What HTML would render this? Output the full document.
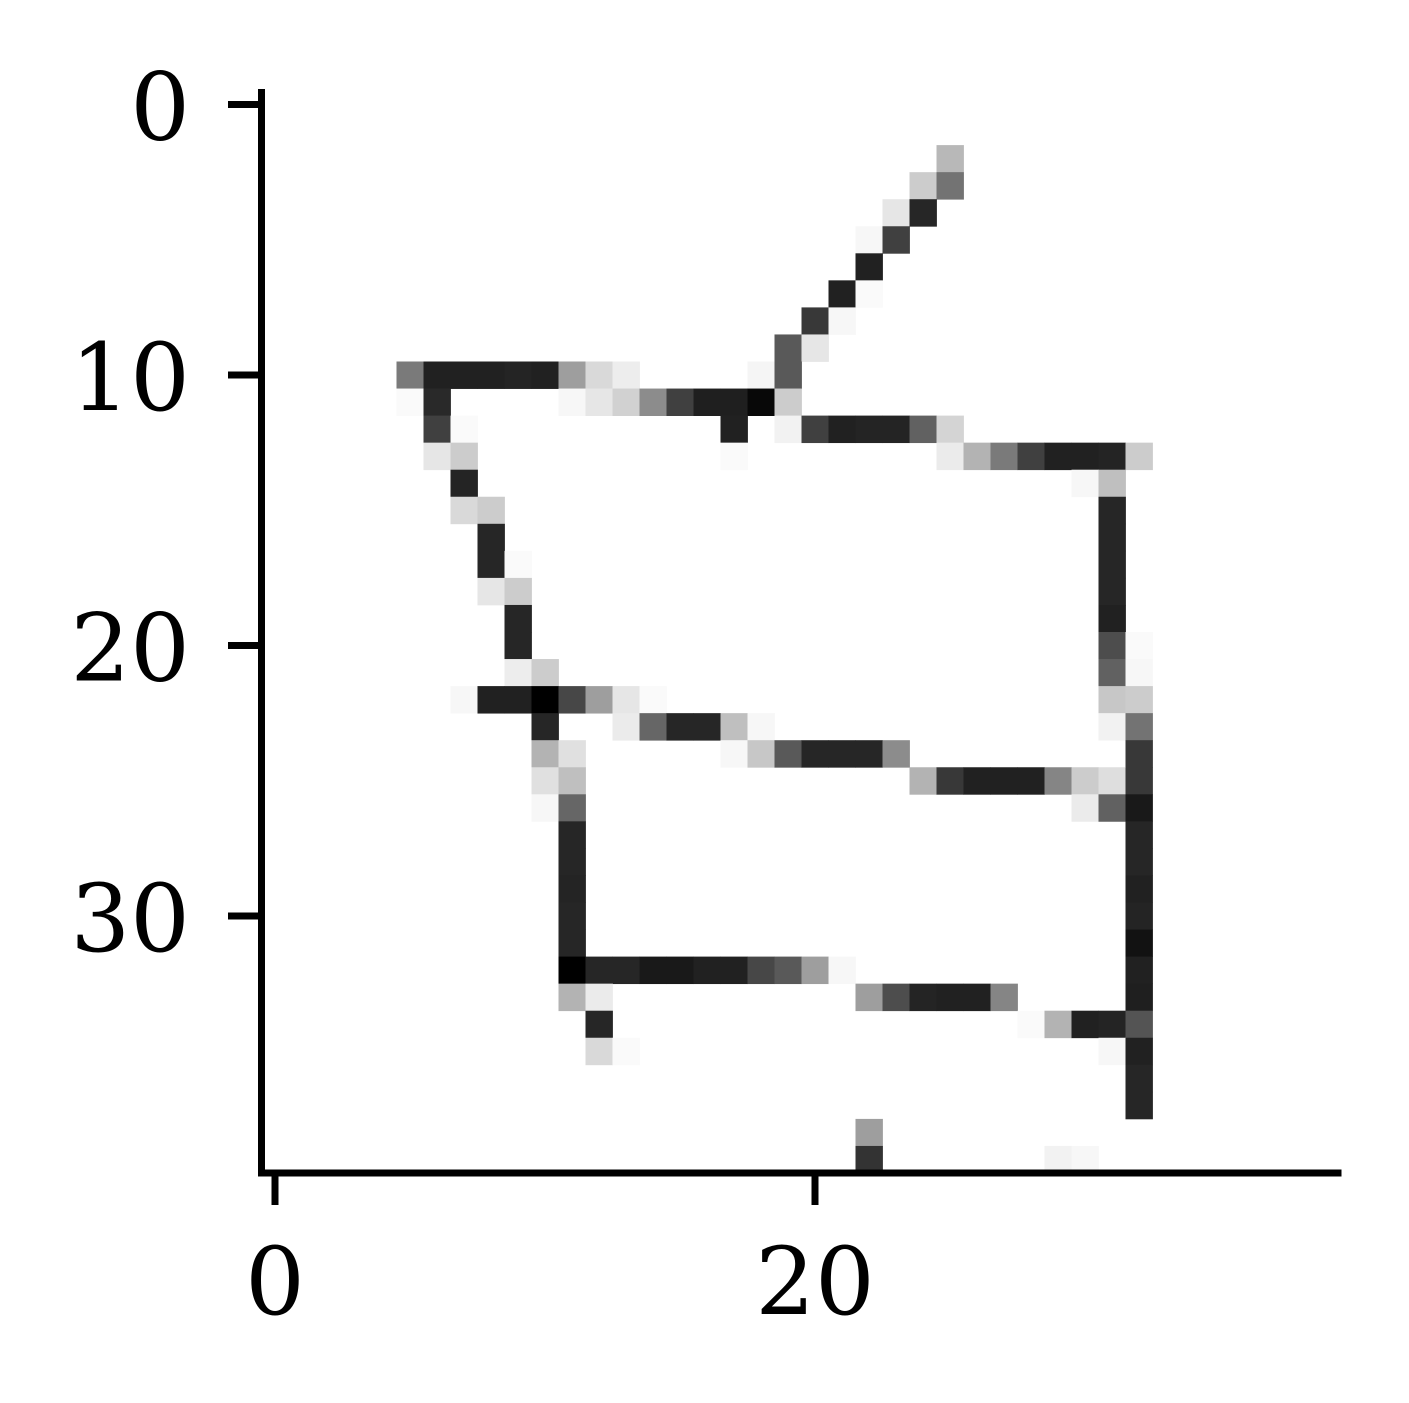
<!DOCTYPE html>
<html><head><meta charset="utf-8"><style>
html,body{margin:0;padding:0;background:#fff;}
svg{display:block;}
text{font-family:"DejaVu Serif","Liberation Serif",serif;font-size:94px;fill:#000;}
</style></head><body>
<svg id="chart" width="1409" height="1403" viewBox="0 0 1409 1403" xmlns="http://www.w3.org/2000/svg">
<rect width="1409" height="1403" fill="#fff"/>
<g id="cells"></g>
<g id="axes"></g>
</svg>
<script>
// pixel data: [row, col, intensity 0..1]
const rows = [2,3,3,4,4,5,5,6,7,7,8,8,9,9,
10,10,10,10,10,10,10,10,10,10,10,
11,11,11,11,11,11,11,11,11,11,11,
12,12,12,12,12,12,12,12,12,12,
13,13,13,13,13,13,13,13,13,13,13,
14,14,14,15,15,15,16,16,17,17,17,18,18,18,19,19,20,20,20,21,21,21,21,
22,22,22,22,22,22,22,22,22,22,
23,23,23,23,23,23,23,23,23,
24,24,24,24,24,24,24,24,24,24,
25,25,25,25,25,25,25,25,25,25,25,
26,26,26,26,26,
27,27,28,28,29,29,30,30,31,31,
32,32,32,32,32,32,32,32,32,32,32,32,
33,33,33,33,33,33,33,33,33,
34,34,34,34,34,34,
35,35,35,35,36,37,38,39,39,39];
const cols = [25,24,25,23,24,22,23,22,21,22,20,21,19,20,
5,6,7,8,9,10,11,12,13,18,19,
5,6,11,12,13,14,15,16,17,18,19,
6,7,17,19,20,21,22,23,24,25,
6,7,17,25,26,27,28,29,30,31,32,
7,30,31,7,8,31,8,31,8,9,31,8,9,31,9,31,9,31,32,9,10,31,32,
7,8,9,10,11,12,13,14,31,32,
10,13,14,15,16,17,18,31,32,
10,11,17,18,19,20,21,22,23,32,
10,11,24,25,26,27,28,29,30,31,32,
10,11,30,31,32,
11,32,11,32,11,32,11,32,11,32,
11,12,13,14,15,16,17,18,19,20,21,32,
11,12,22,23,24,25,26,27,32,
12,28,29,30,31,32,
12,13,31,32,32,32,22,22,29,30];
const values = [0.28,0.2,0.55,0.1,0.85,0.03,0.75,0.87,0.87,0.02,0.78,0.03,0.65,0.1,
0.52,0.87,0.87,0.87,0.86,0.87,0.38,0.15,0.07,0.04,0.65,
0.02,0.84,0.03,0.1,0.18,0.45,0.75,0.88,0.88,0.97,0.2,
0.75,0.02,0.87,0.05,0.75,0.87,0.86,0.86,0.62,0.17,
0.1,0.2,0.02,0.08,0.3,0.52,0.75,0.87,0.87,0.86,0.2,
0.86,0.03,0.25,0.15,0.2,0.85,0.85,0.85,0.85,0.02,0.85,0.1,0.2,0.85,0.85,0.87,0.85,0.7,0.02,0.07,0.2,0.62,0.03,
0.03,0.87,0.87,1.0,0.72,0.38,0.1,0.02,0.22,0.2,
0.85,0.08,0.6,0.85,0.85,0.25,0.03,0.05,0.55,
0.3,0.12,0.03,0.22,0.65,0.85,0.85,0.85,0.45,0.78,
0.12,0.25,0.3,0.78,0.87,0.87,0.87,0.48,0.2,0.13,0.78,
0.03,0.6,0.08,0.62,0.9,
0.85,0.85,0.85,0.85,0.86,0.87,0.85,0.86,0.85,0.93,
1.0,0.85,0.85,0.9,0.9,0.87,0.87,0.72,0.65,0.38,0.03,0.87,
0.3,0.08,0.38,0.7,0.86,0.87,0.87,0.48,0.88,
0.85,0.02,0.3,0.87,0.86,0.67,
0.15,0.02,0.03,0.87,0.85,0.85,0.38,0.8,0.05,0.03];
const xTicks = [0,20];
const yTicks = [0,10,20,30];
const nCols = 40, nRows = 40;

const X0 = 261.5, Y0 = 91, CW = 27, CH = 27.05;
const xs = v => X0 + (v + 0.5) * CW;
const ys = v => Y0 + (v + 0.5) * CH;
const NS = 'http://www.w3.org/2000/svg';
const cg = document.getElementById('cells');
for (let i = 0; i < values.length; i++) {
  const r = document.createElementNS(NS, 'rect');
  const g = Math.round(255 * (1 - values[i]));
  r.setAttribute('x', (xs(cols[i]) - CW / 2).toFixed(2));
  r.setAttribute('y', (ys(rows[i]) - CH / 2).toFixed(2));
  r.setAttribute('width', (CW + 0.4).toFixed(2));
  r.setAttribute('height', (CH + 0.4).toFixed(2));
  r.setAttribute('fill', `rgb(${g},${g},${g})`);
  
  
  cg.appendChild(r);
}
const ag = document.getElementById('axes');
function line(x1, y1, x2, y2, name) {
  const l = document.createElementNS(NS, 'line');
  l.setAttribute('x1', x1); l.setAttribute('y1', y1);
  l.setAttribute('x2', x2); l.setAttribute('y2', y2);
  l.setAttribute('stroke', '#000'); l.setAttribute('stroke-width', 7);
  
  
  ag.appendChild(l);
}
const xL = X0, xR = X0 + nCols * CW, yT = Y0 - 2, yB = Y0 + nRows * CH;
line(xL, yT, xL, yB + 3.5, 'y-axis-spine');
line(xL - 3.5, yB, xR, yB, 'x-axis-spine');
yTicks.forEach(t => {
  line(228, ys(t), xL, ys(t), 'y-tick');
  const tx = document.createElementNS(NS, 'text');
  tx.setAttribute('x', 190); tx.setAttribute('y', ys(t) + 35);
  tx.setAttribute('text-anchor', 'end');
  tx.textContent = t;
  
  
  ag.appendChild(tx);
});
xTicks.forEach(t => {
  line(xs(t), yB, xs(t), 1205, 'x-tick');
  const tx = document.createElementNS(NS, 'text');
  tx.setAttribute('x', xs(t)); tx.setAttribute('y', 1314);
  tx.setAttribute('text-anchor', 'middle');
  tx.textContent = t;
  
  
  ag.appendChild(tx);
});
</script>
</body></html>
